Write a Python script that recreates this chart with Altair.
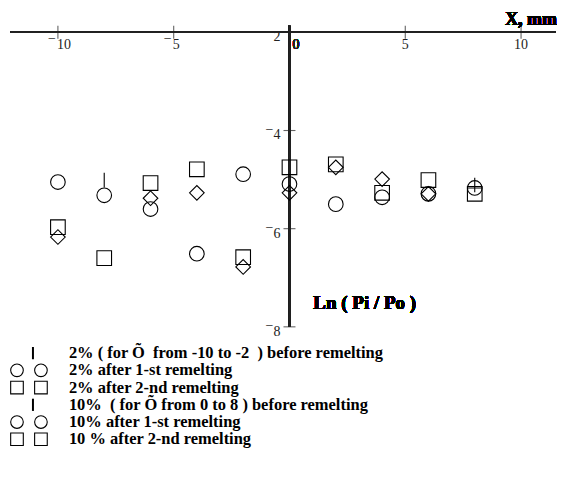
import altair as alt
import pandas as pd

# ---------------- data ----------------
x_left = [-10, -8, -6, -4, -2]          # 2 % alloy positions
x_right = [0, 2, 4, 6, 8]               # 10 % alloy positions

before_2 = [-6.17, -5.01, -5.38, -5.27, -6.78]
first_2 = [-5.05, -5.32, -5.60, -6.51, -4.89]
second_2 = [-5.97, -6.60, -5.07, -4.79, -6.58]

before_10 = [-5.27, -4.75, -4.99, -5.29, -5.11]
first_10 = [-5.09, -5.50, -5.36, -5.29, -5.17]
second_10 = [-4.75, -4.69, -5.27, -5.01, -5.29]

x_ticks = [-10, -5, 5, 10]
x_tick_labels = ["\u221210", "\u22125", "5", "10"]
y_ticks = [-2, -4, -6, -8]
y_tick_labels = ["\u22122", "\u22124", "\u22126", "\u22128"]

legend_labels = [
    "2% ( for \u00d5\u00a0 from -10 to -2\u00a0 ) before remelting",
    "2% after 1-st remelting",
    "2% after 2-nd remelting",
    "10%\u00a0 ( for \u00d5 from 0 to 8 ) before remelting",
    "10% after 1-st remelting",
    "10 % after 2-nd remelting",
]
legend_markers = ["bar", "circle", "square", "bar", "circle", "square"]

# ---------------- tables ----------------
# before-remelting points are drawn as diamonds, except the two drawn as strokes
before_marker_override = {-8: "bar", 8: "plus"}

rows = []
for xs, series in [(x_left, [(before_2, "before"), (first_2, "circle"), (second_2, "square")]),
                   (x_right, [(before_10, "before"), (first_10, "circle"), (second_10, "square")])]:
    for ys, kind in series:
        for xv, yv in zip(xs, ys):
            marker = kind
            if kind == "before":
                marker = before_marker_override.get(xv, "diamond")
            rows.append({"x": xv, "y": yv, "marker": marker})
points = pd.DataFrame(rows)

MINUS = "\u2212"


def split_labels(vals, labels):
    return pd.DataFrame({
        "v": vals,
        "digits": [lab.lstrip(MINUS) for lab in labels],
        "neg": [lab.startswith(MINUS) for lab in labels],
    })


xt = split_labels(x_ticks, x_tick_labels)
yt = split_labels(y_ticks, y_tick_labels)
leg = pd.DataFrame({"row": list(range(len(legend_labels))), "label": legend_labels,
                    "marker": legend_markers})

FONT = "Liberation Serif"
X_MIN, X_MAX = -12.112, 11.552
xscale = alt.Scale(domain=[X_MIN, X_MAX], nice=False, zero=False)
yscale = alt.Scale(domain=[-8.325, -1.512], nice=False, zero=False)

shape_scale = alt.Scale(
    domain=["circle", "square", "diamond", "bar", "plus"],
    range=["circle", "square", "diamond", "M0,-1L0,1", "M0,-1L0,1M-1,0.4L1,0.4"],
)


def X(**kw):
    return alt.X(scale=xscale, axis=None, **kw)


def Y(**kw):
    return alt.Y(scale=yscale, axis=None, **kw)


base = alt.Chart(points)

pts = base.mark_point(filled=False, color="black", strokeWidth=1.1, size=215, opacity=1).encode(
    x=X(field="x", type="quantitative"),
    y=Y(field="y", type="quantitative"),
    shape=alt.Shape("marker:N", scale=shape_scale, legend=None),
)

x_axis_line = base.mark_rule(color="#222", strokeWidth=1.3).encode(
    x=X(datum=-12.05, type="quantitative"),
    x2=alt.X2(datum=11.5),
    y=Y(datum=-2, type="quantitative"),
)
y_axis_line = base.mark_rule(color="#222", strokeWidth=1.3).encode(
    x=X(datum=0, type="quantitative"),
    y=Y(datum=-1.858, type="quantitative"),
    y2=alt.Y2(datum=-8.0),
)

x_tick_marks = alt.Chart(xt).mark_tick(orient="vertical", size=13, thickness=1.1, color="#222").encode(
    x=X(field="v", type="quantitative"),
    y=Y(datum=-2, type="quantitative"),
)
y_tick_marks = alt.Chart(yt).mark_tick(orient="horizontal", size=12, thickness=1.1, color="#222").encode(
    x=X(datum=0, type="quantitative"),
    y=Y(field="v", type="quantitative"),
)

TICK_FS = 14
xt_chart = alt.Chart(xt)
x_neg_digits = xt_chart.transform_filter("datum.neg").mark_text(
    font=FONT, fontSize=TICK_FS, color="#222", align="left", baseline="alphabetic", dx=-1, dy=17).encode(
    x=X(field="v", type="quantitative"),
    y=Y(datum=-2, type="quantitative"),
    text="digits:N",
)
x_neg_minus = xt_chart.transform_filter("datum.neg").mark_text(
    font=FONT, fontSize=TICK_FS, color="#222", align="right", baseline="alphabetic", dx=-2, dy=10.5,
    text=MINUS).encode(
    x=X(field="v", type="quantitative"),
    y=Y(datum=-2, type="quantitative"),
)
x_pos_digits = xt_chart.transform_filter("!datum.neg").mark_text(
    font=FONT, fontSize=TICK_FS, color="#222", align="center", baseline="alphabetic", dy=17).encode(
    x=X(field="v", type="quantitative"),
    y=Y(datum=-2, type="quantitative"),
    text="digits:N",
)

yt_chart = alt.Chart(yt)
y_digits = yt_chart.mark_text(
    font=FONT, fontSize=TICK_FS, color="#222", align="right", baseline="alphabetic", dx=-9, dy=9).encode(
    x=X(datum=0, type="quantitative"),
    y=Y(field="v", type="quantitative"),
    text="digits:N",
)
y_minus = yt_chart.transform_filter("datum.neg").mark_text(
    font=FONT, fontSize=TICK_FS, color="#222", align="right", baseline="alphabetic", dx=-16, dy=3.5,
    text=MINUS).encode(
    x=X(datum=0, type="quantitative"),
    y=Y(field="v", type="quantitative"),
)
zero_text = base.mark_text(font=FONT, fontSize=TICK_FS, color="#222", align="left",
                           baseline="alphabetic", dx=3, dy=16.5, text="0").encode(
    x=X(datum=0, type="quantitative"),
    y=Y(datum=-2, type="quantitative"),
)

x_title = base.mark_text(font=FONT, fontSize=18, fontWeight="bold", color="black", align="right",
                         baseline="alphabetic", dy=-7, text="X, mm").encode(
    x=X(datum=X_MAX, type="quantitative"),
    y=Y(datum=-2, type="quantitative"),
)
y_title = base.mark_text(font=FONT, fontSize=19, fontWeight="bold", color="black", align="left",
                         baseline="alphabetic", text="Ln ( Pi / Po )").encode(
    x=X(datum=1.03, type="quantitative"),
    y=Y(datum=-7.63, type="quantitative"),
)

top = alt.layer(
    x_axis_line, y_axis_line, x_tick_marks, y_tick_marks,
    x_neg_digits, x_neg_minus, x_pos_digits, y_digits, y_minus,
    zero_text, pts, x_title, y_title,
).properties(width=549, height=335)

# ---------------- legend panel ----------------
row_scale = alt.Scale(type="point", padding=0.6)
lb = alt.Chart(leg)
leg_text = lb.mark_text(font=FONT, fontSize=16.5, fontWeight="bold", color="black", align="left",
                        baseline="middle").encode(
    x=alt.value(60),
    y=alt.Y("row:O", scale=row_scale, axis=None),
    text="label:N",
)
leg_sym_l = lb.transform_filter(alt.datum.marker != "bar").mark_point(
    filled=False, color="black", strokeWidth=1.1, size=160, opacity=1).encode(
    x=alt.value(8),
    y=alt.Y("row:O", scale=row_scale, axis=None),
    shape=alt.Shape("marker:N", scale=shape_scale, legend=None),
)
leg_sym_r = lb.transform_filter(alt.datum.marker != "bar").mark_point(
    filled=False, color="black", strokeWidth=1.1, size=160, opacity=1).encode(
    x=alt.value(32),
    y=alt.Y("row:O", scale=row_scale, axis=None),
    shape=alt.Shape("marker:N", scale=shape_scale, legend=None),
)
leg_bar = lb.transform_filter(alt.datum.marker == "bar").mark_point(
    filled=False, color="black", strokeWidth=2, size=150, opacity=1).encode(
    x=alt.value(24),
    y=alt.Y("row:O", scale=row_scale, axis=None),
    shape=alt.Shape("marker:N", scale=shape_scale, legend=None),
)
legend_panel = alt.layer(leg_text, leg_sym_l, leg_sym_r, leg_bar).properties(width=549, height=107)

chart = alt.vconcat(
    top, legend_panel, spacing=0,
    padding={"left": 0, "top": 0, "right": 0, "bottom": 0},
).configure_view(strokeWidth=0)

chart.save("out.html", embed_options={"renderer": "svg", "actions": False})
